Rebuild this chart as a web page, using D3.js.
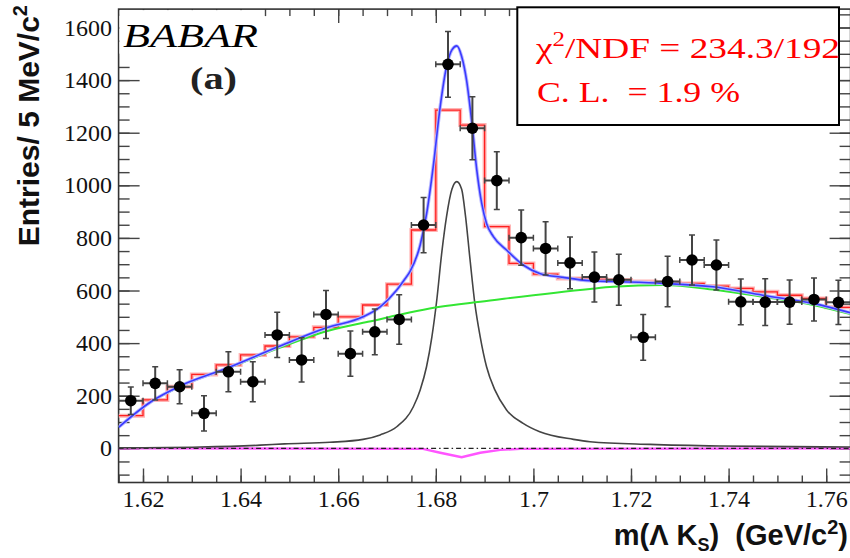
<!DOCTYPE html>
<html><head><meta charset="utf-8">
<script src="https://cdn.jsdelivr.net/npm/d3@7"></script>
<style>body{margin:0;background:#fff;} svg{display:block;}</style>
</head><body>
<svg id="c" width="850" height="558"></svg>
<script>
// ---- data ----
const massCenters = [1.6175,1.6225,1.6275,1.6325,1.6375,1.6425,1.6475,1.6525,1.6575,1.6625,1.6675,1.6725,1.6775,1.6825,1.6875,1.6925,1.6975,1.7025,1.7075,1.7125,1.7175,1.7225,1.7275,1.7325,1.7375,1.7425,1.7475,1.7525,1.7575,1.7625];
const entries = [181,247,234,133,291,253,431,336,509,360,443,490,849,1460,1217,1018,801,760,705,651,641,422,634,716,697,557,556,556,566,555];
const errors  = [52,63,65,67,76,76,86,84,91,86,87,94,105,125,120,110,105,101,98,95,97,87,96,95,95,87,89,84,82,84];
const fitHist = [124,184,234,281,317,355,389,424,460,500,545,624,830,1286,1229,843,703,662,646,642,640,634,630,627,617,608,595,582,570,536];
const binHalf = 0.0025;

const bgMass = [1.615,1.6217,1.6275,1.6374,1.6477,1.6576,1.6661,1.6809,1.6891,1.7116,1.7163,1.7266,1.7368,1.747,1.7573,1.765];
const bgVals = [80,177,234,304,380,445,481,538,557,606,614,621,604,576,545,510];

const totMass = [1.615,1.6217,1.6275,1.6374,1.6477,1.6576,1.6651,1.6686,1.672,1.6737,1.6747,1.6768,1.6781,1.6795,1.6809,1.6822,1.6833,1.6843,1.6853,1.6863,1.6874,1.6884,1.6894,1.6904,1.6918,1.6945,1.6979,1.7013,1.7061,1.7116,1.7163,1.7266,1.7368,1.747,1.7573,1.765];
const totVals = [80,178,236,306,386,458,500,538,602,645,672,773,890,1075,1299,1451,1515,1530,1490,1400,1236,1058,932,855,805,754,697,665,650,637,634,627,614,582,551,515];

const sigMass = [1.615,1.6317,1.644,1.649,1.6583,1.6651,1.6686,1.672,1.6754,1.6768,1.6781,1.6792,1.6802,1.6812,1.6822,1.6833,1.6843,1.6853,1.6861,1.687,1.688,1.6891,1.6904,1.6921,1.6945,1.6979,1.7013,1.7082,1.7116,1.7239,1.7382,1.765];
const sigVals = [2,5,12,17,23,34,51,82,158,222,310,424,564,740,881,985,1014,985,881,720,551,424,310,222,146,95,63,34,25,15,9,5];

const intMass = [1.615,1.6774,1.6809,1.6853,1.6891,1.6932,1.6973,1.765];
const intVals = [0,-2,-17,-34,-17,-6,-2,0];

const xTicks = [1.62,1.64,1.66,1.68,1.70,1.72,1.74,1.76];
const xTickLabels = ["1.62","1.64","1.66","1.68","1.7","1.72","1.74","1.76"];
const yTicks = [0,200,400,600,800,1000,1200,1400,1600];
const yTickLabels = ["0","200","400","600","800","1000","1200","1400","1600"];

// ---- layout ----
const X0=118.6, X1=850.6, Y0=9.1, Y1=482.5;
const x = d3.scaleLinear().domain([1.615,1.765]).range([X0,X1]);
const y = d3.scaleLinear().domain([-130,1670]).range([Y1,Y0]);
const svg = d3.select("#c");

svg.append("defs").append("clipPath").attr("id","clip")
  .append("rect").attr("x",X0).attr("y",Y0).attr("width",X1-X0).attr("height",Y1-Y0);

const xMinor = d3.range(0,31).map(i=>+(1.615+i*0.005).toFixed(3));
const yMinor = d3.range(-100,1700,50);

function styleAxis(g){
  g.select(".domain").remove();
  g.selectAll("line").attr("stroke","#444").attr("stroke-width",1.4);
  g.selectAll("text").attr("fill","#111").style("font-family","'Liberation Serif','Times New Roman',serif").style("font-size","24px");
}
// minor ticks
svg.append("g").attr("transform",`translate(${X0},0)`).call(d3.axisLeft(y).tickValues(yMinor).tickSize(-11).tickFormat("")).call(styleAxis);
svg.append("g").attr("transform",`translate(${X1},0)`).call(d3.axisRight(y).tickValues(yMinor).tickSize(-11).tickFormat("")).call(styleAxis);
svg.append("g").attr("transform",`translate(0,${Y1})`).call(d3.axisBottom(x).tickValues(xMinor).tickSize(-7).tickFormat("")).call(styleAxis);
svg.append("g").attr("transform",`translate(0,${Y0})`).call(d3.axisTop(x).tickValues(xMinor).tickSize(-7).tickFormat("")).call(styleAxis);
// major ticks
svg.append("g").attr("transform",`translate(${X0},0)`).call(d3.axisLeft(y).tickValues(yTicks).tickSize(-21).tickPadding(6.5).tickFormat((d,i)=>yTickLabels[i])).call(styleAxis);
svg.append("g").attr("transform",`translate(${X1},0)`).call(d3.axisRight(y).tickValues(yTicks).tickSize(-21).tickFormat("")).call(styleAxis);
svg.append("g").attr("transform",`translate(0,${Y1})`).call(d3.axisBottom(x).tickValues(xTicks).tickSize(-14).tickPadding(7).tickFormat((d,i)=>xTickLabels[i])).call(styleAxis);
svg.append("g").attr("transform",`translate(0,${Y0})`).call(d3.axisTop(x).tickValues(xTicks).tickSize(-14).tickFormat("")).call(styleAxis);

// frame
svg.append("rect").attr("x",X0).attr("y",Y0).attr("width",X1-X0).attr("height",Y1-Y0)
  .attr("fill","none").attr("stroke","#333").attr("stroke-width",1.6);

const plot = svg.append("g").attr("clip-path","url(#clip)");

// fit histogram (red steps)
const histPts = massCenters.map((m,i)=>[m-binHalf,fitHist[i]]);
histPts.push([massCenters[massCenters.length-1]+binHalf, fitHist[fitHist.length-1]]);
const stepLine = d3.line().x(d=>x(d[0])).y(d=>y(d[1])).curve(d3.curveStepAfter);
plot.append("path").attr("d",stepLine(histPts)).attr("fill","none").attr("stroke","#ffb4b4").attr("stroke-width",4);
plot.append("path").attr("d",stepLine(histPts)).attr("fill","none").attr("stroke","#ff2020").attr("stroke-width",1.3);

const smooth = d3.line().x(d=>x(d[0])).y(d=>y(d[1])).curve(d3.curveMonotoneX);
const lin = d3.line().x(d=>x(d[0])).y(d=>y(d[1]));
const zip = (a,b)=>a.map((m,i)=>[m,b[i]]);

// zero line (interference, magenta) and dash-dot
plot.append("path").attr("d",lin(zip(intMass,intVals))).attr("fill","none").attr("stroke","#ff55ff").attr("stroke-width",2.4);
plot.append("path").attr("d",lin([[1.615,0],[1.765,0]])).attr("fill","none").attr("stroke","#222").attr("stroke-width",1.2).attr("stroke-dasharray","5,3,1.5,3");

// signal (black)
plot.append("path").attr("d",smooth(zip(sigMass,sigVals))).attr("fill","none").attr("stroke","#444").attr("stroke-width",1.6);
// background (green)
plot.append("path").attr("d",smooth(zip(bgMass,bgVals))).attr("fill","none").attr("stroke","#33e633").attr("stroke-width",2);
// total (blue)
plot.append("path").attr("d",smooth(zip(totMass,totVals))).attr("fill","none").attr("stroke","#b8b8ff").attr("stroke-width",3.5);
plot.append("path").attr("d",smooth(zip(totMass,totVals))).attr("fill","none").attr("stroke","#3a3aff").attr("stroke-width",1.6);

// data points
const pts = plot.append("g");
massCenters.forEach((m,i)=>{
  const cx=x(m), cy=y(entries[i]);
  const g=pts.append("g").attr("stroke","#444").attr("stroke-width",2);
  g.append("line").attr("x1",x(m-binHalf)).attr("x2",x(m+binHalf)).attr("y1",cy).attr("y2",cy);
  g.append("line").attr("x1",cx).attr("x2",cx).attr("y1",y(entries[i]-errors[i])).attr("y2",y(entries[i]+errors[i]));
  [m-binHalf,m+binHalf].forEach(e=>g.append("line").attr("x1",x(e)).attr("x2",x(e)).attr("y1",cy-3).attr("y2",cy+3).attr("stroke-width",1.5));
  [entries[i]-errors[i],entries[i]+errors[i]].forEach(e=>g.append("line").attr("x1",cx-3).attr("x2",cx+3).attr("y1",y(e)).attr("y2",y(e)).attr("stroke-width",1.5));
  pts.append("circle").attr("cx",cx).attr("cy",cy).attr("r",5.8).attr("fill","#000");
});

// BABAR logo
svg.append("rect").attr("x",X0+0.8).attr("y",Y0+1).attr("width",142).attr("height",45).attr("fill","#fff");
svg.append("text").attr("x",123).attr("y",47).attr("textLength",135).attr("lengthAdjust","spacingAndGlyphs")
  .style("font-family","'Liberation Serif','Times New Roman',serif").style("font-style","italic").style("font-size","33px").attr("fill","#000").text("BABAR");
svg.append("text").attr("x",190).attr("y",89).attr("textLength",47).attr("lengthAdjust","spacingAndGlyphs")
  .style("font-family","'Liberation Serif','Times New Roman',serif").style("font-weight","bold").style("font-size","31px").attr("fill","#222").text("(a)");

// stats box
svg.append("rect").attr("x",517.3).attr("y",7.3).attr("width",321.7).attr("height",117.7).attr("fill","#fff").attr("stroke","#000").attr("stroke-width",2);
const st = svg.append("text").attr("x",536).attr("y",58).attr("textLength",304).attr("lengthAdjust","spacingAndGlyphs")
  .style("font-family","'Liberation Serif','Times New Roman',serif").style("font-size","30px").attr("fill","#ff0000");
st.append("tspan").text("χ");
st.append("tspan").attr("dy",-12).style("font-size","20px").text("2");
st.append("tspan").attr("dy",12).text("/NDF = 234.3/192");
svg.append("text").attr("x",537).attr("y",101.5).attr("textLength",203).attr("lengthAdjust","spacingAndGlyphs")
  .style("font-family","'Liberation Serif','Times New Roman',serif").style("font-size","30px").attr("fill","#ff0000")
  .attr("xml:space","preserve").style("white-space","pre").text("C. L.  = 1.9 %");

// axis titles
const yt = svg.append("text").attr("transform","translate(39,5) rotate(-90)").attr("text-anchor","end")
  .style("font-family","'Liberation Sans',Arial,sans-serif").style("font-weight","bold").style("font-size","30px").attr("fill","#111");
yt.append("tspan").text("Entries/ 5 MeV/c");
yt.append("tspan").attr("dy",-12).style("font-size","20px").text("2");

const xt = svg.append("text").attr("x",848).attr("y",545).attr("text-anchor","end")
  .style("font-family","'Liberation Sans',Arial,sans-serif").style("font-weight","bold").style("font-size","29px").attr("fill","#111")
  .attr("xml:space","preserve").style("white-space","pre");
xt.append("tspan").text("m(Λ K");
xt.append("tspan").attr("dy",6).style("font-size","18px").text("S");
xt.append("tspan").attr("dy",-6).text(")  (GeV/c");
xt.append("tspan").attr("dy",-11).style("font-size","20px").text("2");
xt.append("tspan").attr("dy",11).text(")");
</script>
</body></html>
